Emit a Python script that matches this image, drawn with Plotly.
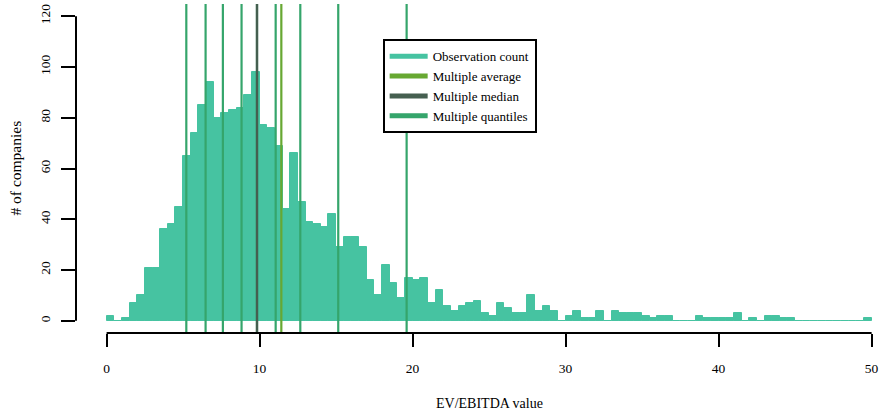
import numpy as np
import plotly.graph_objects as go

# ---- data ----
bin_width = 0.5
bin_left = np.arange(0, 50, bin_width)
counts = [2, 0, 1, 7, 10, 21, 21, 36, 38, 45,
          65, 74, 85, 94, 80, 82, 83, 84, 89, 98,
          77, 76, 69, 44, 66, 47, 39, 38, 37, 42,
          29, 33, 33, 29, 16, 10, 22, 15, 9, 17,
          16, 17, 7, 12, 6, 4, 6, 7, 8, 3,
          2, 7, 5, 3, 3, 10, 4, 6, 4, 0,
          2, 4, 1, 1, 4, 0, 4, 3, 3, 3,
          2, 1, 2, 2, 0, 0, 0, 2, 1, 1,
          1, 1, 3, 0, 1, 0, 2, 2, 1, 1,
          0, 0, 0, 0, 0, 0, 0, 0, 0, 1]
multiple_average = 11.42
multiple_median = 9.83
multiple_quantiles = [5.21, 6.47, 7.60, 8.82, 9.83, 11.05, 12.66, 15.14, 19.61]
x_ticks = [0, 10, 20, 30, 40, 50]
y_ticks = [0, 20, 40, 60, 80, 100, 120]
legend_names = ["Observation count", "Multiple average", "Multiple median", "Multiple quantiles"]

# ---- style ----
c_bar = "#46C3A1"
c_avg = "#67A832"
c_med = "#455F50"
c_q = "#35A56B"
FONT = "Liberation Serif, Times New Roman, serif"
YR = [-4.8, 124.8]
XR = [-2, 50.745]

fig = go.Figure()
fig.add_trace(go.Bar(
    x=bin_left + bin_width / 2, y=counts, width=bin_width,
    marker=dict(color=c_bar, line=dict(color=c_bar, width=1)),
    showlegend=False, hoverinfo="x+y"))

for q in multiple_quantiles:
    fig.add_trace(go.Scatter(x=[q, q], y=YR, mode="lines",
                             line=dict(color=c_q, width=2.2), showlegend=False))
fig.add_trace(go.Scatter(x=[multiple_median] * 2, y=YR, mode="lines",
                         line=dict(color=c_med, width=2.4), showlegend=False))
fig.add_trace(go.Scatter(x=[multiple_average] * 2, y=YR, mode="lines",
                         line=dict(color=c_avg, width=2.2), showlegend=False))

# legend-only entries
for name, col in zip(legend_names, [c_bar, c_avg, c_med, c_q]):
    fig.add_trace(go.Scatter(x=[None], y=[None], mode="lines", name=name,
                             line=dict(color=col, width=5)))

# R-style axis lines (only over tick range)
fig.add_shape(type="line", xref="x", yref="paper", x0=x_ticks[0], x1=x_ticks[-1],
              y0=0, y1=0, line=dict(color="black", width=2))
fig.add_shape(type="line", xref="paper", yref="y", x0=0, x1=0,
              y0=y_ticks[0], y1=y_ticks[-1], line=dict(color="black", width=2))

fig.add_annotation(text="EV/EBITDA value", xref="x", x=25, yref="paper", y=0,
                   xanchor="center", yanchor="middle", yshift=-70, showarrow=False,
                   font=dict(family=FONT, size=14, color="black"))
fig.add_annotation(text="# of companies", xref="paper", x=0, xshift=-61,
                   xanchor="center", yanchor="middle",
                   yref="y", y=60, textangle=-90, showarrow=False,
                   font=dict(family=FONT, size=15.5, color="black"))

fig.update_layout(
    width=883, height=417,
    margin=dict(l=76, r=0, t=4, b=84, autoexpand=False),
    plot_bgcolor="white", paper_bgcolor="white",
    font=dict(family=FONT, size=13.5, color="black"),
    bargap=0,
    xaxis=dict(range=XR, tickvals=x_ticks, showgrid=False, zeroline=False,
               showline=False, ticks="outside", ticklen=13, tickwidth=2,
               tickcolor="black", ticklabelstandoff=10,
               tickfont=dict(family=FONT, size=13.5)),
    yaxis=dict(range=YR, tickvals=y_ticks, showgrid=False, zeroline=False,
               showline=False, ticks="outside", ticklen=14, tickwidth=2,
               tickcolor="black", tickangle=-90, ticklabelstandoff=6,
               tickfont=dict(family=FONT, size=13.5)),
    legend=dict(x=0.38, y=0.893, xanchor="left", yanchor="top",
                bgcolor="white", bordercolor="black", borderwidth=2,
                itemwidth=38, tracegroupgap=0,
                font=dict(family=FONT, size=13, color="black")),
)

fig.write_html("out.html", config={"displayModeBar": False})
